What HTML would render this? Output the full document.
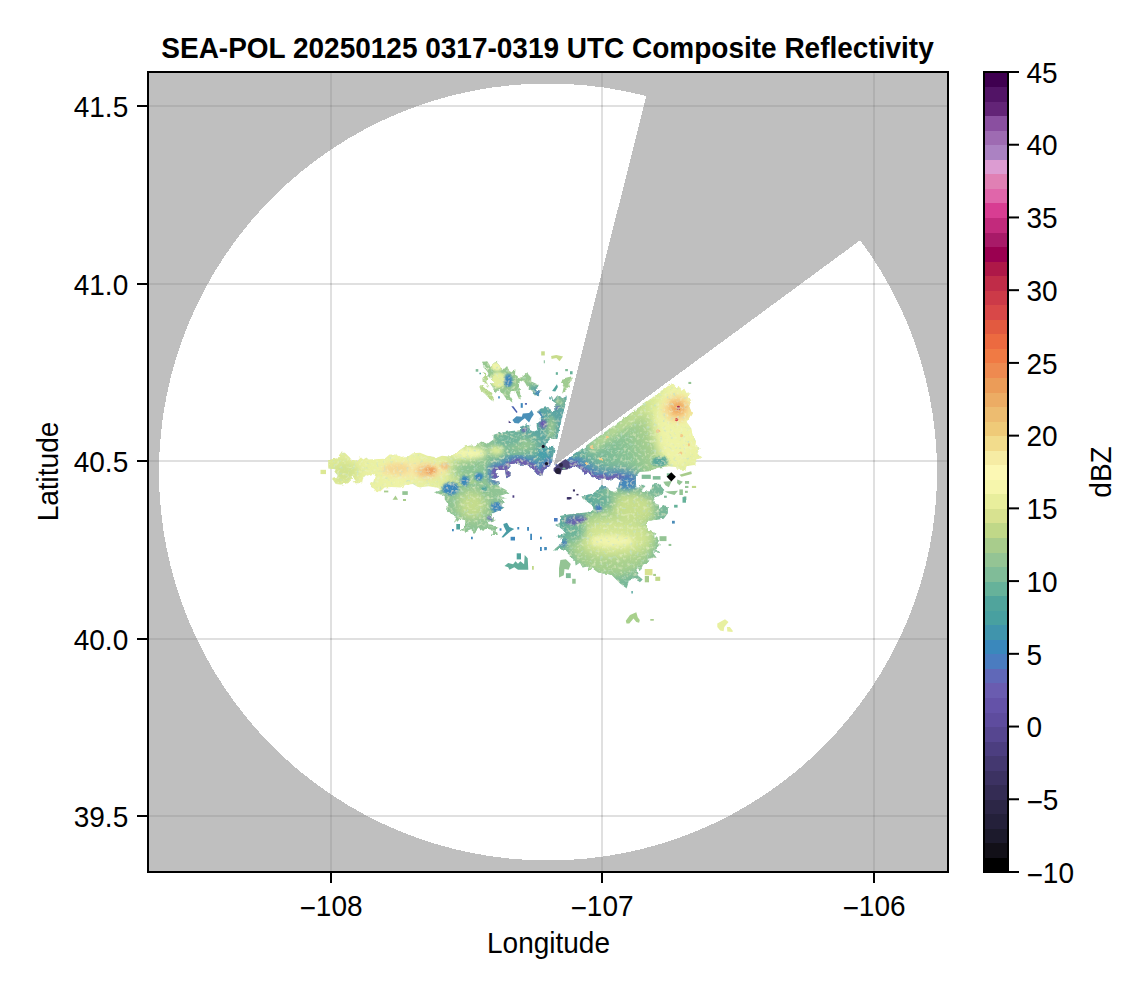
<!DOCTYPE html>
<html lang="en"><head><meta charset="utf-8"><title>SEA-POL Composite Reflectivity</title>
<style>
html,body{margin:0;padding:0;background:#fff;}
body{width:1146px;height:990px;overflow:hidden;}
svg{display:block;}
text{font-family:"Liberation Sans",sans-serif;fill:#000;}
.t{font-size:28px;}
.b{font-size:28px;font-weight:bold;}
</style></head><body>
<svg width="1146" height="990" viewBox="0 0 1146 990">
<rect width="1146" height="990" fill="#fff"/>
<defs>
<mask id="m" maskUnits="userSpaceOnUse" x="148" y="72" width="800" height="800">
<rect x="148" y="72" width="800" height="800" fill="#fff"/>
<ellipse cx="548" cy="472" rx="389" ry="388.5" fill="#000" shape-rendering="crispEdges"/>
<polygon points="553.4,466 646,97 700,-100 1100,-100 1100,62.8 858.2,241.7" fill="#fff" shape-rendering="crispEdges"/>
</mask>
<clipPath id="ax"><rect x="148" y="72" width="800" height="800"/></clipPath>
</defs>

<g stroke="#000" stroke-opacity="0.12" stroke-width="2">
<line x1="331" y1="72" x2="331" y2="872"/>
<line x1="602" y1="72" x2="602" y2="872"/>
<line x1="874" y1="72" x2="874" y2="872"/>
<line x1="148" y1="106" x2="948" y2="106"/>
<line x1="148" y1="284" x2="948" y2="284"/>
<line x1="148" y1="461" x2="948" y2="461"/>
<line x1="148" y1="639" x2="948" y2="639"/>
<line x1="148" y1="816" x2="948" y2="816"/>
</g>
<g id="echo" clip-path="url(#ax)"><defs>
<clipPath id="ec"><path d="M328.2,460.0 L337.0,458.2 L340.7,452.7 L344.9,452.7 L349.8,457.6 L351.6,460.0 L358.4,460.0 L360.8,457.2 L363.3,459.4 L366.3,457.6 L368.7,459.4 L384.6,458.8 L389.5,454.5 L395.6,454.5 L400.5,457.0 L409.0,455.8 L412.7,453.3 L420.0,452.7 L427.4,455.8 L437.2,457.6 L442.0,455.8 L449.4,456.4 L452.0,455.4 L465.4,446.3 L476.4,445.0 L481.3,441.4 L487.4,443.8 L493.5,439.5 L493.5,434.7 L500.0,432.7 L511.8,430.9 L520.0,430.0 L520.0,426.8 L524.5,425.5 L526.4,423.2 L529.1,424.5 L530.0,430.0 L533.6,431.8 L537.3,430.0 L536.4,424.5 L540.9,420.0 L540.9,417.3 L536.8,411.8 L540.9,408.6 L548.2,406.8 L550.9,410.9 L554.5,410.9 L554.1,405.5 L556.4,403.6 L553.6,401.8 L551.8,400.0 L549.1,399.1 L549.5,396.4 L553.6,400.0 L557.3,395.5 L562.7,398.2 L566.8,395.9 L566.5,399.1 L564.5,408.2 L561.8,419.1 L559.1,430.0 L557.3,439.1 L550.0,439.1 L545.5,444.5 L548.2,448.2 L553.6,445.5 L555.0,448.2 L553.6,453.6 L551.8,460.9 L550.0,465.5 L548.2,467.3 L543.6,470.0 L542.3,476.4 L537.3,474.5 L531.8,468.2 L524.5,464.5 L520.0,464.5 L516.4,462.7 L511.8,464.5 L508.2,469.1 L510.9,475.5 L506.4,478.2 L505.0,470.0 L496.4,470.0 L495.0,473.6 L499.1,476.4 L495.5,478.6 L489.9,478.6 L480.0,482.0 L460.0,486.0 L440.8,490.0 L436.0,487.5 L428.6,486.3 L418.8,487.5 L412.7,483.9 L405.4,485.1 L400.5,487.5 L391.4,486.9 L384.6,487.5 L379.1,492.4 L376.1,491.8 L374.9,489.4 L370.6,487.5 L370.0,483.9 L373.0,482.0 L374.9,475.3 L372.4,474.1 L363.3,477.1 L362.0,483.3 L352.9,483.3 L352.9,481.4 L356.5,480.8 L354.1,477.8 L350.4,475.9 L352.3,479.0 L348.0,483.3 L340.7,484.5 L335.8,483.9 L332.1,479.0 L337.0,477.8 L337.6,475.3 L334.5,471.6 L335.8,469.2 L328.2,468.6Z"/><path d="M436.0,484.0 L442.2,489.8 L433.7,492.2 L444.7,495.9 L444.7,499.5 L448.3,504.4 L447.1,509.3 L453.2,516.6 L456.3,517.9 L453.8,522.8 L459.9,519.1 L465.4,520.3 L464.8,526.4 L460.5,530.1 L466.6,531.9 L471.5,530.1 L474.0,533.1 L478.9,528.3 L483.7,531.3 L487.4,528.9 L493.5,530.1 L490.5,535.0 L497.8,535.0 L496.6,529.5 L498.4,526.4 L488.6,525.2 L487.4,522.1 L496.0,520.3 L491.1,516.0 L493.5,513.0 L500.2,509.9 L504.5,507.5 L500.9,506.3 L503.9,502.0 L500.2,499.5 L507.0,498.3 L499.6,495.9 L509.4,492.8 L505.7,489.8 L498.4,486.1 L499.6,481.8 L492.3,480.0 L489.9,478.6 L470.0,470.0 L445.0,470.0Z"/><path d="M562.0,463.2 L671.7,383.5 L675.9,387.5 L678.7,386.1 L681.5,390.9 L684.3,388.8 L686.4,393.0 L690.5,392.3 L688.4,396.5 L691.2,400.7 L689.1,406.3 L691.9,413.3 L688.4,418.9 L686.4,421.7 L691.2,428.6 L692.6,435.6 L696.1,441.2 L695.4,445.4 L699.6,448.2 L697.5,453.8 L701.7,458.0 L696.1,459.4 L695.4,464.9 L686.4,466.3 L685.7,469.8 L677.3,469.8 L675.9,467.0 L668.9,466.3 L657.7,467.7 L649.4,471.2 L639.6,471.9 L636.1,476.1 L630.0,480.0 L620.0,480.0 L615.8,477.5 L608.9,480.3 L601.9,478.2 L596.3,478.9 L587.9,473.3 L583.7,474.7 L582.3,470.5 L574.0,464.9 L569.8,469.8 L566.0,467.0 L560.0,467.7 L556.0,466.0Z"/><path d="M617.0,477.0 L636.0,476.0 L635.8,483.2 L636.5,488.0 L642.7,484.5 L645.5,485.9 L641.3,490.8 L649.7,491.5 L652.5,484.5 L658.8,483.8 L664.4,490.1 L660.9,495.0 L653.9,497.8 L655.3,503.4 L658.8,504.8 L659.5,508.3 L664.4,505.5 L667.9,506.2 L667.9,513.2 L663.7,518.8 L655.3,520.1 L648.3,520.8 L646.2,524.3 L648.3,530.6 L655.3,533.4 L653.9,536.2 L658.8,540.4 L659.5,545.3 L655.3,548.8 L659.5,553.0 L652.5,552.3 L656.7,557.8 L648.3,558.5 L647.6,562.7 L642.7,565.5 L639.9,571.1 L635.8,568.3 L637.8,575.3 L642.7,579.5 L639.9,582.3 L634.4,578.1 L628.8,580.9 L626.7,588.6 L620.4,583.7 L612.0,575.3 L607.8,573.9 L598.1,572.5 L592.5,568.3 L589.7,570.4 L588.3,566.2 L582.7,567.6 L579.9,562.7 L575.7,565.5 L575.0,561.3 L570.1,555.8 L565.9,551.6 L559.0,548.8 L552.7,550.9 L559.0,545.3 L563.2,539.0 L557.6,537.6 L558.3,534.8 L565.9,533.4 L561.8,528.5 L556.2,525.0 L560.4,522.2 L559.7,516.0 L568.7,514.6 L578.5,513.2 L588.3,512.5 L593.9,509.7 L592.5,505.5 L586.9,501.3 L582.0,497.1 L586.9,495.0 L593.9,492.9 L600.8,486.6 L606.4,485.9 L612.0,492.9 L616.2,492.2 L618.3,485.9 L620.4,480.4Z"/><path d="M482.0,361.8 L487.2,361.2 L490.4,365.9 L496.6,360.7 L500.3,367.0 L504.0,369.1 L507.1,365.9 L509.2,370.7 L511.3,372.2 L515.5,369.1 L515.0,374.8 L517.6,375.9 L518.1,378.5 L522.8,376.4 L527.5,372.2 L531.2,376.4 L531.2,381.6 L538.5,384.8 L538.0,387.9 L535.4,389.0 L537.0,391.6 L541.7,390.0 L538.5,395.3 L533.3,395.3 L532.3,391.1 L528.1,387.9 L524.9,382.7 L522.8,380.6 L519.2,382.7 L520.7,399.5 L518.6,398.4 L515.5,391.1 L511.3,391.1 L509.2,394.2 L512.4,399.5 L511.3,402.6 L506.1,398.4 L499.8,390.0 L494.6,393.2 L492.5,386.9 L490.4,383.7 L494.6,382.7 L488.3,375.4 L487.2,369.1 L483.0,364.9Z"/><path d="M482.5,372.2 L485.1,372.7 L488.8,378.5 L486.2,381.1 L488.3,386.9 L482.5,381.6 L482.5,379.0 L485.1,376.4Z"/><path d="M479.4,385.3 L481.5,385.3 L488.3,389.5 L493.5,396.3 L493.5,401.5 L491.4,400.5 L486.2,395.3 L480.4,390.0Z"/><path d="M563.1,378.5 L571.0,376.4 L572.0,380.6 L568.9,382.7 L570.0,386.9 L565.8,390.0 L562.1,393.7 L563.7,386.9 L561.0,382.7Z"/></clipPath>
<filter id="b0" x="-50%" y="-50%" width="200%" height="200%"><feGaussianBlur stdDeviation="1.2"/></filter>
<filter id="b1" x="-50%" y="-50%" width="200%" height="200%"><feGaussianBlur stdDeviation="2.5"/></filter>
<filter id="b2" x="-50%" y="-50%" width="200%" height="200%"><feGaussianBlur stdDeviation="4"/></filter>
<filter id="b3" x="-50%" y="-50%" width="200%" height="200%"><feGaussianBlur stdDeviation="6"/></filter>
<linearGradient id="gb" gradientUnits="userSpaceOnUse" x1="328" y1="0" x2="560" y2="0">
<stop offset="0" stop-color="#dce894"/><stop offset="0.1" stop-color="#e6ee9e"/><stop offset="0.3" stop-color="#eef3a6"/><stop offset="0.5" stop-color="#e2ec9c"/><stop offset="0.6" stop-color="#b4d68c"/><stop offset="0.72" stop-color="#7cba98"/><stop offset="0.85" stop-color="#5ca8a0"/><stop offset="1" stop-color="#5aa4a4"/></linearGradient>
<linearGradient id="gn" gradientUnits="userSpaceOnUse" x1="562" y1="470" x2="690" y2="420">
<stop offset="0" stop-color="#5f8ebc"/><stop offset="0.1" stop-color="#58a4a2"/><stop offset="0.25" stop-color="#74b69a"/><stop offset="0.5" stop-color="#8cc494"/><stop offset="0.66" stop-color="#a8cf8e"/><stop offset="0.78" stop-color="#dcea98"/><stop offset="1" stop-color="#eef3a6"/></linearGradient>
<filter id="tex" filterUnits="userSpaceOnUse" x="310" y="340" width="410" height="260">
<feTurbulence type="fractalNoise" baseFrequency="0.22" numOctaves="2" seed="7" result="n"/>
<feDisplacementMap in="SourceGraphic" in2="n" scale="3.2" xChannelSelector="R" yChannelSelector="G" result="d"/>
<feTurbulence type="fractalNoise" baseFrequency="0.3" numOctaves="2" seed="11" result="n2"/>
<feColorMatrix in="n2" type="matrix" values="0 0 0 0 0.82  0 0 0 0 0.89  0 0 0 0 0.60  2.0 0 0 0 -1.09" result="s1"/>
<feColorMatrix in="n2" type="matrix" values="0 0 0 0 0.50  0 0 0 0 0.74  0 0 0 0 0.60  0 -2.6 0 0 1.02" result="s2"/>
<feComposite in="s1" in2="d" operator="atop" result="c1"/>
<feComposite in="s2" in2="c1" operator="atop"/>
</filter>
</defs>
<g filter="url(#tex)">
<path d="M436.0,484.0 L442.2,489.8 L433.7,492.2 L444.7,495.9 L444.7,499.5 L448.3,504.4 L447.1,509.3 L453.2,516.6 L456.3,517.9 L453.8,522.8 L459.9,519.1 L465.4,520.3 L464.8,526.4 L460.5,530.1 L466.6,531.9 L471.5,530.1 L474.0,533.1 L478.9,528.3 L483.7,531.3 L487.4,528.9 L493.5,530.1 L490.5,535.0 L497.8,535.0 L496.6,529.5 L498.4,526.4 L488.6,525.2 L487.4,522.1 L496.0,520.3 L491.1,516.0 L493.5,513.0 L500.2,509.9 L504.5,507.5 L500.9,506.3 L503.9,502.0 L500.2,499.5 L507.0,498.3 L499.6,495.9 L509.4,492.8 L505.7,489.8 L498.4,486.1 L499.6,481.8 L492.3,480.0 L489.9,478.6 L470.0,470.0 L445.0,470.0Z" fill="#90c494"/>
<path d="M328.2,460.0 L337.0,458.2 L340.7,452.7 L344.9,452.7 L349.8,457.6 L351.6,460.0 L358.4,460.0 L360.8,457.2 L363.3,459.4 L366.3,457.6 L368.7,459.4 L384.6,458.8 L389.5,454.5 L395.6,454.5 L400.5,457.0 L409.0,455.8 L412.7,453.3 L420.0,452.7 L427.4,455.8 L437.2,457.6 L442.0,455.8 L449.4,456.4 L452.0,455.4 L465.4,446.3 L476.4,445.0 L481.3,441.4 L487.4,443.8 L493.5,439.5 L493.5,434.7 L500.0,432.7 L511.8,430.9 L520.0,430.0 L520.0,426.8 L524.5,425.5 L526.4,423.2 L529.1,424.5 L530.0,430.0 L533.6,431.8 L537.3,430.0 L536.4,424.5 L540.9,420.0 L540.9,417.3 L536.8,411.8 L540.9,408.6 L548.2,406.8 L550.9,410.9 L554.5,410.9 L554.1,405.5 L556.4,403.6 L553.6,401.8 L551.8,400.0 L549.1,399.1 L549.5,396.4 L553.6,400.0 L557.3,395.5 L562.7,398.2 L566.8,395.9 L566.5,399.1 L564.5,408.2 L561.8,419.1 L559.1,430.0 L557.3,439.1 L550.0,439.1 L545.5,444.5 L548.2,448.2 L553.6,445.5 L555.0,448.2 L553.6,453.6 L551.8,460.9 L550.0,465.5 L548.2,467.3 L543.6,470.0 L542.3,476.4 L537.3,474.5 L531.8,468.2 L524.5,464.5 L520.0,464.5 L516.4,462.7 L511.8,464.5 L508.2,469.1 L510.9,475.5 L506.4,478.2 L505.0,470.0 L496.4,470.0 L495.0,473.6 L499.1,476.4 L495.5,478.6 L489.9,478.6 L480.0,482.0 L460.0,486.0 L440.8,490.0 L436.0,487.5 L428.6,486.3 L418.8,487.5 L412.7,483.9 L405.4,485.1 L400.5,487.5 L391.4,486.9 L384.6,487.5 L379.1,492.4 L376.1,491.8 L374.9,489.4 L370.6,487.5 L370.0,483.9 L373.0,482.0 L374.9,475.3 L372.4,474.1 L363.3,477.1 L362.0,483.3 L352.9,483.3 L352.9,481.4 L356.5,480.8 L354.1,477.8 L350.4,475.9 L352.3,479.0 L348.0,483.3 L340.7,484.5 L335.8,483.9 L332.1,479.0 L337.0,477.8 L337.6,475.3 L334.5,471.6 L335.8,469.2 L328.2,468.6Z" fill="url(#gb)"/>
<path d="M562.0,463.2 L671.7,383.5 L675.9,387.5 L678.7,386.1 L681.5,390.9 L684.3,388.8 L686.4,393.0 L690.5,392.3 L688.4,396.5 L691.2,400.7 L689.1,406.3 L691.9,413.3 L688.4,418.9 L686.4,421.7 L691.2,428.6 L692.6,435.6 L696.1,441.2 L695.4,445.4 L699.6,448.2 L697.5,453.8 L701.7,458.0 L696.1,459.4 L695.4,464.9 L686.4,466.3 L685.7,469.8 L677.3,469.8 L675.9,467.0 L668.9,466.3 L657.7,467.7 L649.4,471.2 L639.6,471.9 L636.1,476.1 L630.0,480.0 L620.0,480.0 L615.8,477.5 L608.9,480.3 L601.9,478.2 L596.3,478.9 L587.9,473.3 L583.7,474.7 L582.3,470.5 L574.0,464.9 L569.8,469.8 L566.0,467.0 L560.0,467.7 L556.0,466.0Z" fill="url(#gn)"/>
<path d="M617.0,477.0 L636.0,476.0 L635.8,483.2 L636.5,488.0 L642.7,484.5 L645.5,485.9 L641.3,490.8 L649.7,491.5 L652.5,484.5 L658.8,483.8 L664.4,490.1 L660.9,495.0 L653.9,497.8 L655.3,503.4 L658.8,504.8 L659.5,508.3 L664.4,505.5 L667.9,506.2 L667.9,513.2 L663.7,518.8 L655.3,520.1 L648.3,520.8 L646.2,524.3 L648.3,530.6 L655.3,533.4 L653.9,536.2 L658.8,540.4 L659.5,545.3 L655.3,548.8 L659.5,553.0 L652.5,552.3 L656.7,557.8 L648.3,558.5 L647.6,562.7 L642.7,565.5 L639.9,571.1 L635.8,568.3 L637.8,575.3 L642.7,579.5 L639.9,582.3 L634.4,578.1 L628.8,580.9 L626.7,588.6 L620.4,583.7 L612.0,575.3 L607.8,573.9 L598.1,572.5 L592.5,568.3 L589.7,570.4 L588.3,566.2 L582.7,567.6 L579.9,562.7 L575.7,565.5 L575.0,561.3 L570.1,555.8 L565.9,551.6 L559.0,548.8 L552.7,550.9 L559.0,545.3 L563.2,539.0 L557.6,537.6 L558.3,534.8 L565.9,533.4 L561.8,528.5 L556.2,525.0 L560.4,522.2 L559.7,516.0 L568.7,514.6 L578.5,513.2 L588.3,512.5 L593.9,509.7 L592.5,505.5 L586.9,501.3 L582.0,497.1 L586.9,495.0 L593.9,492.9 L600.8,486.6 L606.4,485.9 L612.0,492.9 L616.2,492.2 L618.3,485.9 L620.4,480.4Z" fill="#78b89a"/>
<path d="M482.0,361.8 L487.2,361.2 L490.4,365.9 L496.6,360.7 L500.3,367.0 L504.0,369.1 L507.1,365.9 L509.2,370.7 L511.3,372.2 L515.5,369.1 L515.0,374.8 L517.6,375.9 L518.1,378.5 L522.8,376.4 L527.5,372.2 L531.2,376.4 L531.2,381.6 L538.5,384.8 L538.0,387.9 L535.4,389.0 L537.0,391.6 L541.7,390.0 L538.5,395.3 L533.3,395.3 L532.3,391.1 L528.1,387.9 L524.9,382.7 L522.8,380.6 L519.2,382.7 L520.7,399.5 L518.6,398.4 L515.5,391.1 L511.3,391.1 L509.2,394.2 L512.4,399.5 L511.3,402.6 L506.1,398.4 L499.8,390.0 L494.6,393.2 L492.5,386.9 L490.4,383.7 L494.6,382.7 L488.3,375.4 L487.2,369.1 L483.0,364.9Z" fill="#98c890"/>
<path d="M482.5,372.2 L485.1,372.7 L488.8,378.5 L486.2,381.1 L488.3,386.9 L482.5,381.6 L482.5,379.0 L485.1,376.4Z" fill="#b4d68c"/>
<path d="M479.4,385.3 L481.5,385.3 L488.3,389.5 L493.5,396.3 L493.5,401.5 L491.4,400.5 L486.2,395.3 L480.4,390.0Z" fill="#b8d88c"/>
<path d="M563.1,378.5 L571.0,376.4 L572.0,380.6 L568.9,382.7 L570.0,386.9 L565.8,390.0 L562.1,393.7 L563.7,386.9 L561.0,382.7Z" fill="#a0cc90"/>
<g clip-path="url(#ec)">
<ellipse cx="345" cy="472" rx="13" ry="11" fill="#d2e28e" filter="url(#b2)"/>
<ellipse cx="414" cy="470" rx="34" ry="8" fill="#f6e8a4" filter="url(#b1)"/>
<ellipse cx="397" cy="469" rx="13" ry="5.5" fill="#f5d892" filter="url(#b1)"/>
<ellipse cx="427" cy="471" rx="11" ry="6.5" fill="#f3c482" filter="url(#b1)"/>
<ellipse cx="429.5" cy="470.5" rx="5" ry="3" fill="#eea460" filter="url(#b0)"/>
<ellipse cx="445" cy="466" rx="4.5" ry="3.5" fill="#f3c482" filter="url(#b0)"/>
<ellipse cx="433" cy="470" rx="3" ry="2" fill="#eea460" filter="url(#b0)"/>
<ellipse cx="475" cy="470" rx="22" ry="9" fill="#8cc494" filter="url(#b2)"/>
<ellipse cx="469" cy="453" rx="18" ry="6" fill="#f2f6ac" filter="url(#b1)"/>
<ellipse cx="496.5" cy="450.5" rx="8" ry="5" fill="#dcea98" filter="url(#b1)"/>
<ellipse cx="522" cy="445" rx="16" ry="8" fill="#98c892" filter="url(#b2)"/>
<ellipse cx="510" cy="440" rx="12" ry="5" fill="#6fb49c" filter="url(#b1)"/>
<path d="M550.0,465.5 L546.0,469.0 L542.3,476.4 L537.3,474.5 L531.8,468.2 L524.5,464.5 L516.4,462.7 L510.0,466.0 L508.0,474.0 L504.0,470.0 L496.0,471.0 L497.0,477.0" fill="none" stroke="#4a84bc" stroke-width="17" stroke-linecap="round" stroke-linejoin="round" stroke-opacity="0.9" filter="url(#b1)"/>
<path d="M550.0,465.5 L546.0,469.0 L542.3,476.4 L537.3,474.5 L531.8,468.2 L524.5,464.5 L516.4,462.7 L510.0,466.0 L508.0,474.0 L504.0,470.0 L496.0,471.0 L497.0,477.0" fill="none" stroke="#6e60ae" stroke-width="9" stroke-linecap="round" stroke-linejoin="round" filter="url(#b0)"/>
<ellipse cx="544" cy="453.5" rx="6" ry="5.5" fill="#48a0aa" filter="url(#b0)"/>
<ellipse cx="450.5" cy="488.5" rx="8.5" ry="6.5" fill="#3a88bc" filter="url(#b0)"/>
<ellipse cx="464.7" cy="480.8" rx="4.5" ry="5" fill="#3a88bc" filter="url(#b0)"/>
<ellipse cx="479" cy="476.7" rx="4.5" ry="4" fill="#3a88bc" filter="url(#b0)"/>
<ellipse cx="484.4" cy="489" rx="2.5" ry="3" fill="#48a0a0" filter="url(#b0)"/>
<ellipse cx="551" cy="428" rx="5" ry="12" fill="#94c492" filter="url(#b1)"/>
<ellipse cx="560" cy="402" rx="5" ry="5" fill="#94c492" filter="url(#b1)"/>
<ellipse cx="543" cy="424" rx="3.5" ry="4" fill="#6a5cb0" filter="url(#b0)"/>
<ellipse cx="524" cy="430" rx="2.5" ry="2" fill="#6a5cb0" filter="url(#b0)"/>
<ellipse cx="556.3" cy="407.5" rx="2" ry="2" fill="#6068b8" filter="url(#b0)"/>
<ellipse cx="538" cy="415" rx="4" ry="5" fill="#4a88b8" filter="url(#b0)"/>
<ellipse cx="472" cy="505" rx="14" ry="14" fill="#c4dc8c" filter="url(#b2)"/>
<ellipse cx="497" cy="507.5" rx="6" ry="6" fill="#3f88bc" filter="url(#b0)" transform="rotate(-35 497 507.5)"/>
<ellipse cx="489.8" cy="518" rx="2.5" ry="2" fill="#6068b8" filter="url(#b0)"/>
<path d="M592.0,447.0 L672.0,388.0" fill="none" stroke="#d4e692" stroke-width="8" stroke-linecap="round" stroke-linejoin="round" stroke-opacity="0.85" filter="url(#b2)"/>
<path d="M558.0,467.0 L570.0,467.0 L574.0,465.0 L583.0,472.0 L588.0,473.5 L596.0,479.0 L602.0,478.5 L609.0,480.5 L616.0,478.0 L630.0,480.0" fill="none" stroke="#4a80c0" stroke-width="17" stroke-linecap="round" stroke-linejoin="round" stroke-opacity="0.92" filter="url(#b2)"/>
<path d="M558.0,467.0 L570.0,467.0 L574.0,465.0 L583.0,472.0 L588.0,473.5 L596.0,479.0 L602.0,478.5 L609.0,480.5 L616.0,478.0 L630.0,480.0" fill="none" stroke="#6e60ae" stroke-width="7.5" stroke-linecap="round" stroke-linejoin="round" filter="url(#b0)"/>
<ellipse cx="676" cy="425" rx="20" ry="44" fill="#eef3a6" filter="url(#b2)"/>
<ellipse cx="677.5" cy="408.5" rx="15" ry="14" fill="#f6dc94" filter="url(#b1)"/>
<ellipse cx="677.5" cy="408" rx="8" ry="7.5" fill="#f0ac64" filter="url(#b1)"/>
<ellipse cx="678.3" cy="408.4" rx="1.6" ry="1.6" fill="#b0204c"/>
<ellipse cx="676.6" cy="419.6" rx="1.6" ry="1.6" fill="#d84848"/>
<ellipse cx="681.5" cy="435.6" rx="1.6" ry="1.6" fill="#f4c884"/>
<ellipse cx="680.8" cy="453.1" rx="1.6" ry="1.6" fill="#f4c884"/>
<ellipse cx="688.4" cy="444.7" rx="1.6" ry="1.6" fill="#f4c884"/>
<ellipse cx="657.7" cy="431.4" rx="1.6" ry="1.6" fill="#f4c884"/>
<ellipse cx="607.2" cy="437.4" rx="1.6" ry="1.6" fill="#f4c884"/>
<ellipse cx="591.4" cy="446.8" rx="1.6" ry="1.6" fill="#f4c884"/>
<ellipse cx="600.5" cy="458.7" rx="1.6" ry="1.6" fill="#f4c884"/>
<ellipse cx="586.5" cy="463.5" rx="1.6" ry="1.6" fill="#f4c884"/>
<ellipse cx="660" cy="461.5" rx="8" ry="5" fill="#58a89c" filter="url(#b0)"/>
<ellipse cx="612" cy="535" rx="46" ry="42" fill="#a8d08e" filter="url(#b2)"/>
<ellipse cx="634" cy="508" rx="21" ry="15" fill="#c8de8c" filter="url(#b2)"/>
<ellipse cx="614" cy="538" rx="37" ry="19" fill="#d2e492" filter="url(#b2)"/>
<ellipse cx="612" cy="541" rx="22" ry="6.5" fill="#f0f4aa" filter="url(#b1)"/>
<ellipse cx="627" cy="482.5" rx="9" ry="7" fill="#4488bc" filter="url(#b1)"/>
<ellipse cx="573" cy="531" rx="12" ry="11" fill="#62ae9c" fill-opacity="0.85" filter="url(#b2)"/>
<ellipse cx="600" cy="501" rx="13" ry="8" fill="#5aa8a0" fill-opacity="0.85" filter="url(#b2)"/>
<ellipse cx="575" cy="519.5" rx="11" ry="4.5" fill="#6a5cb0" filter="url(#b0)" transform="rotate(-8 575 519.5)"/>
<ellipse cx="563" cy="543" rx="4.2" ry="3" fill="#4a7cc0" filter="url(#b0)"/>
<ellipse cx="598.5" cy="508" rx="3.5" ry="3.2" fill="#4a7cc0" filter="url(#b0)"/>
<path d="M560.0,545.0 L562.0,530.0 L560.0,520.0 L590.0,511.0 L592.0,504.0 L584.0,497.0 L600.0,488.0" fill="none" stroke="#4fa3a0" stroke-width="6" stroke-linecap="round" stroke-linejoin="round" stroke-opacity="0.8" filter="url(#b1)"/>
<ellipse cx="497" cy="366.5" rx="6" ry="4.5" fill="#f0f4a8" filter="url(#b0)"/>
<ellipse cx="498.5" cy="380" rx="8" ry="8" fill="#e4ee9e" filter="url(#b0)"/>
<ellipse cx="508.3" cy="380.7" rx="4.2" ry="6.6" fill="#3f88bc" filter="url(#b0)"/>
<ellipse cx="535" cy="389" rx="5" ry="5" fill="#5aa4a4" filter="url(#b1)"/>
<ellipse cx="538" cy="392.5" rx="4" ry="3" fill="#3f88bc" filter="url(#b0)"/>
</g>
</g>
<path d="M512.4,419.9 L516.5,416.2 L521.8,416.7 L522.8,413.6 L529.1,413.1 L531.7,409.9 L533.8,414.6 L531.2,418.3 L529.1,422.5 L524.9,418.3 L521.8,420.4 L518.6,423.5 L514.5,423.0Z" fill="#4a90b8"/>
<path d="M553.6,468.2 L559.1,463.6 L565.5,459.1 L569.1,461.8 L570.0,467.3 L567.3,469.5 L561.8,470.0 L560.5,474.5 L557.3,474.1 L553.6,470.9Z" fill="#4c4478"/>
<ellipse cx="558" cy="471" rx="3" ry="3" fill="#241f38"/>
<ellipse cx="561" cy="465" rx="2" ry="2" fill="#2c2646"/>
<ellipse cx="564" cy="468.5" rx="1.6" ry="1" fill="#80bc98"/>
<path d="M320.5,469.8 L326.0,469.8 L326.0,474.1 L320.5,474.1Z" fill="#dce894"/>
<path d="M384.0,490.6 L388.3,490.6 L388.3,492.4 L384.0,492.4Z" fill="#a8cc8c"/>
<path d="M402.3,491.2 L407.8,491.2 L407.8,494.9 L402.3,494.9Z" fill="#94c494"/>
<path d="M392.6,499.7 L395.5,495.5 L398.0,499.7Z" fill="#a8cc8c"/>
<path d="M403.0,499.0 L406.0,499.0 L406.0,501.0 L403.0,501.0Z" fill="#a8cc8c"/>
<path d="M503.3,524.0 L507.0,522.8 L509.4,527.0 L514.3,528.9 L510.6,531.3 L503.3,537.4 L501.5,537.2 L506.3,531.3 L503.9,526.4Z" fill="#4a9ca4"/>
<path d="M510.6,536.8 L515.0,536.8 L515.0,540.5 L510.6,540.5Z" fill="#3f88bc"/>
<path d="M456.3,524.0 L460.0,524.0 L460.0,529.5 L456.3,529.5Z" fill="#50a49c"/>
<path d="M452.0,528.9 L453.8,528.9 L453.8,531.3 L452.0,531.3Z" fill="#3f88bc"/>
<path d="M471.0,536.8 L472.8,536.8 L472.8,539.2 L471.0,539.2Z" fill="#3f88bc"/>
<path d="M499.6,528.3 L501.5,528.3 L501.5,530.7 L499.6,530.7Z" fill="#3f88bc"/>
<path d="M517.3,527.0 L519.2,527.0 L519.2,529.5 L517.3,529.5Z" fill="#3f88bc"/>
<path d="M527.1,527.0 L529.0,527.0 L529.0,530.7 L527.1,530.7Z" fill="#3f88bc"/>
<path d="M530.2,533.8 L532.0,533.8 L532.0,539.9 L530.2,539.9Z" fill="#3f88bc"/>
<path d="M540.0,536.8 L541.8,536.8 L541.8,539.2 L540.0,539.2Z" fill="#3f88bc"/>
<path d="M540.0,547.0 L541.8,547.0 L541.8,550.9 L540.0,550.9Z" fill="#3f88bc"/>
<path d="M544.2,547.0 L546.7,547.0 L546.7,550.2 L544.2,550.2Z" fill="#3f88bc"/>
<path d="M512.5,495.3 L514.3,495.3 L514.3,497.7 L512.5,497.7Z" fill="#4c3e80"/>
<path d="M566.8,497.1 L570.0,497.1 L570.0,499.5 L566.8,499.5Z" fill="#4c3e80"/>
<path d="M504.5,566.1 L508.2,563.1 L513.1,564.3 L515.5,561.2 L518.0,563.7 L520.4,561.2 L524.1,564.3 L524.7,555.1 L527.7,558.2 L528.3,569.8 L518.0,569.8 L514.3,567.3 L509.4,569.8 L508.2,567.3Z" fill="#62ae9a"/>
<path d="M516.7,553.3 L521.0,553.3 L521.0,559.4 L516.7,559.4Z" fill="#50a49c"/>
<path d="M532.0,566.0 L533.8,566.0 L533.8,569.8 L532.0,569.8Z" fill="#c0d888"/>
<path d="M475.7,369.1 L478.3,369.1 L478.3,371.7 L475.7,371.7Z" fill="#80bc98"/>
<path d="M479.4,372.7 L481.0,372.7 L481.0,374.3 L479.4,374.3Z" fill="#50a49c"/>
<path d="M498.2,396.3 L499.8,396.3 L499.8,398.4 L498.2,398.4Z" fill="#3f88bc"/>
<path d="M541.2,351.3 L544.8,351.3 L544.8,355.5 L541.2,355.5Z" fill="#c8dc8c"/>
<path d="M543.8,360.2 L544.8,360.2 L544.8,363.3 L543.8,363.3Z" fill="#80bc98"/>
<path d="M551.1,356.0 L556.3,355.0 L563.1,356.5 L559.5,361.2 L556.3,358.1 L551.6,359.1Z" fill="#c8dc8c"/>
<path d="M555.8,372.2 L557.9,372.2 L557.9,374.8 L555.8,374.8Z" fill="#66b29a"/>
<path d="M565.2,369.0 L567.9,369.0 L567.9,371.2 L565.2,371.2Z" fill="#80bc98"/>
<path d="M570.0,371.2 L572.6,371.2 L572.6,374.3 L570.0,374.3Z" fill="#66b29a"/>
<path d="M556.9,384.3 L557.9,386.9 L555.3,391.6 L552.1,391.1Z" fill="#50a49c"/>
<path d="M511.3,406.3 L513.4,406.3 L517.6,412.0 L516.5,412.9Z" fill="#4a60b0"/>
<path d="M520.7,403.1 L522.8,403.1 L522.8,407.8 L520.7,407.8Z" fill="#3f88bc"/>
<path d="M524.9,403.1 L527.0,403.1 L527.0,404.7 L524.9,404.7Z" fill="#4a60b0"/>
<path d="M508.7,420.4 L511.3,423.0 L508.7,423.0Z" fill="#4c3e80"/>
<path d="M666.8,473.3 L670.3,473.3 L670.3,476.8 L666.8,476.8Z" fill="#80bc98"/>
<path d="M641.7,474.7 L650.8,474.7 L650.8,478.9 L641.7,478.9Z" fill="#80bc98"/>
<path d="M652.8,476.1 L660.5,476.1 L660.5,479.6 L652.8,479.6Z" fill="#80bc98"/>
<path d="M679.4,474.7 L691.2,471.2 L691.9,474.0 L681.5,476.8Z" fill="#a8cc8c"/>
<path d="M663.3,481.7 L671.7,481.0 L668.9,487.3 L665.4,485.2Z" fill="#94c494"/>
<path d="M677.3,479.6 L682.9,481.7 L679.4,485.2 L677.0,483.1Z" fill="#94c494"/>
<path d="M685.0,481.0 L689.1,481.0 L689.1,483.8 L685.0,483.8Z" fill="#94c494"/>
<path d="M691.9,485.9 L696.1,485.9 L696.1,488.0 L691.9,488.0Z" fill="#c0d888"/>
<path d="M685.0,485.9 L688.4,485.9 L688.4,488.0 L685.0,488.0Z" fill="#94c494"/>
<path d="M664.7,491.5 L678.0,490.8 L674.5,495.0 L668.9,493.6Z" fill="#94c494"/>
<path d="M679.4,489.4 L682.9,489.4 L682.9,495.0 L679.4,495.0Z" fill="#94c494"/>
<path d="M685.0,490.8 L687.8,490.8 L687.8,492.9 L685.0,492.9Z" fill="#94c494"/>
<path d="M683.6,496.4 L686.4,496.4 L686.4,500.0 L683.6,500.0Z" fill="#80bc98"/>
<path d="M664.0,495.7 L666.8,495.7 L666.8,497.8 L664.0,497.8Z" fill="#80bc98"/>
<path d="M688.4,381.9 L691.2,381.9 L691.2,384.0 L688.4,384.0Z" fill="#94c494"/>
<path d="M560.4,559.9 L565.9,559.2 L570.8,564.1 L568.7,569.7 L564.5,569.0 L563.8,575.3 L559.0,577.4 L559.0,568.3Z" fill="#94c494"/>
<path d="M565.9,573.2 L570.8,573.2 L570.8,578.1 L565.9,578.1Z" fill="#80bc98"/>
<path d="M572.2,578.8 L575.7,578.8 L575.7,583.7 L572.2,583.7Z" fill="#94c494"/>
<path d="M644.8,569.0 L652.5,569.0 L652.5,575.3 L644.8,575.3Z" fill="#d8e290"/>
<path d="M644.8,576.0 L649.0,576.0 L649.0,582.3 L644.8,582.3Z" fill="#a8cc8c"/>
<path d="M655.3,576.7 L660.2,576.7 L660.2,580.9 L655.3,580.9Z" fill="#c0d888"/>
<path d="M653.2,573.9 L656.0,573.9 L656.0,576.0 L653.2,576.0Z" fill="#a8cc8c"/>
<path d="M659.5,536.2 L666.5,536.2 L666.5,541.1 L659.5,541.1Z" fill="#94c494"/>
<path d="M668.6,543.9 L671.3,543.9 L671.3,546.0 L668.6,546.0Z" fill="#94c494"/>
<path d="M672.0,520.8 L674.8,520.8 L674.8,523.6 L672.0,523.6Z" fill="#4a8cb8"/>
<path d="M674.1,504.8 L677.6,504.8 L677.6,507.6 L674.1,507.6Z" fill="#66b29a"/>
<path d="M682.5,497.1 L686.0,497.1 L686.0,502.7 L682.5,502.7Z" fill="#66b29a"/>
<path d="M567.3,497.1 L571.5,497.1 L571.5,499.2 L567.3,499.2Z" fill="#3c3262"/>
<path d="M572.9,489.4 L575.0,489.4 L575.0,491.5 L572.9,491.5Z" fill="#3c3262"/>
<path d="M576.4,493.9 L578.5,493.9 L578.5,495.4 L576.4,495.4Z" fill="#3c3262"/>
<path d="M545.0,547.4 L546.7,547.4 L546.7,549.5 L545.0,549.5Z" fill="#4a8cb8"/>
<path d="M554.0,518.0 L557.6,518.0 L557.6,521.5 L554.0,521.5Z" fill="#4a7cc0"/>
<path d="M625.8,620.7 L630.0,615.1 L636.3,612.3 L637.7,617.2 L639.8,620.0 L639.1,622.8 L636.3,622.1 L633.5,618.6 L629.3,623.5 L626.5,623.5Z" fill="#a8d08c"/>
<path d="M650.3,619.0 L653.8,619.0 L653.8,620.7 L650.3,620.7Z" fill="#a8cc8c"/>
<path d="M717.3,623.5 L725.0,619.3 L728.5,622.1 L724.3,627.0 L723.6,631.2 L720.1,630.5 L717.3,627.0Z" fill="#e8f0a0"/>
<path d="M727.0,627.0 L729.8,627.0 L732.6,630.5 L732.6,631.9 L727.3,631.6Z" fill="#e8f0a0"/>
<path d="M631.4,591.0 L632.8,591.0 L632.8,593.5 L631.4,593.5Z" fill="#50a49c"/>
<ellipse cx="543.2" cy="446.4" rx="1.6" ry="1.6" fill="#1a1428"/>
<ellipse cx="546.5" cy="463.6" rx="1.7" ry="1.7" fill="#1a1428"/>
<path d="M671.3,472.2 L675.9,476.8 L671.3,481.4 L666.7,476.8Z" fill="#000"/></g>
<rect x="148" y="72" width="800" height="800" fill="#808080" fill-opacity="0.5" mask="url(#m)"/>
<rect x="148" y="72" width="800" height="800" fill="none" stroke="#000" stroke-width="2"/>
<g stroke="#000" stroke-width="2">
<line x1="331" y1="873" x2="331" y2="883"/>
<line x1="602" y1="873" x2="602" y2="883"/>
<line x1="874" y1="873" x2="874" y2="883"/>
<line x1="137" y1="106" x2="147" y2="106"/>
<line x1="137" y1="284" x2="147" y2="284"/>
<line x1="137" y1="461" x2="147" y2="461"/>
<line x1="137" y1="639" x2="147" y2="639"/>
<line x1="137" y1="816" x2="147" y2="816"/>
</g>
<text class="t" transform="translate(128.2,116.5) scale(1,1.05)" text-anchor="end">41.5</text>
<text class="t" transform="translate(128.2,294.5) scale(1,1.05)" text-anchor="end">41.0</text>
<text class="t" transform="translate(128.2,471.5) scale(1,1.05)" text-anchor="end">40.5</text>
<text class="t" transform="translate(128.2,649.5) scale(1,1.05)" text-anchor="end">40.0</text>
<text class="t" transform="translate(128.2,826.5) scale(1,1.05)" text-anchor="end">39.5</text>
<text class="t" transform="translate(331,915.5) scale(1,1.05)" text-anchor="middle" dy="2.4 -2.4">−108</text>
<text class="t" transform="translate(602,915.5) scale(1,1.05)" text-anchor="middle" dy="2.4 -2.4">−107</text>
<text class="t" transform="translate(874,915.5) scale(1,1.05)" text-anchor="middle" dy="2.4 -2.4">−106</text>
<text class="t" transform="translate(548.5,953) scale(1,1.05)" text-anchor="middle">Longitude</text>
<text class="t" transform="translate(58,471.5) rotate(-90) scale(1,1.05)" text-anchor="middle">Latitude</text>
<text class="b" transform="translate(547.5,58.2) scale(1,1.05)" text-anchor="middle">SEA-POL 20250125 0317-0319 UTC Composite Reflectivity</text>
<g shape-rendering="crispEdges">
<rect x="984" y="857.45" width="24" height="15.05" fill="#000000"/>
<rect x="984" y="842.91" width="24" height="15.05" fill="#121018"/>
<rect x="984" y="828.36" width="24" height="15.05" fill="#1c1a2c"/>
<rect x="984" y="813.82" width="24" height="15.05" fill="#24203a"/>
<rect x="984" y="799.27" width="24" height="15.05" fill="#2c2646"/>
<rect x="984" y="784.73" width="24" height="15.05" fill="#342c54"/>
<rect x="984" y="770.18" width="24" height="15.05" fill="#3c3262"/>
<rect x="984" y="755.64" width="24" height="15.05" fill="#443870"/>
<rect x="984" y="741.09" width="24" height="15.05" fill="#4c3e80"/>
<rect x="984" y="726.55" width="24" height="15.05" fill="#564690"/>
<rect x="984" y="712.00" width="24" height="15.05" fill="#5e4c9e"/>
<rect x="984" y="697.45" width="24" height="15.05" fill="#6452a8"/>
<rect x="984" y="682.91" width="24" height="15.05" fill="#6a5cb0"/>
<rect x="984" y="668.36" width="24" height="15.05" fill="#6068b8"/>
<rect x="984" y="653.82" width="24" height="15.05" fill="#4a7cc0"/>
<rect x="984" y="639.27" width="24" height="15.05" fill="#3a88bc"/>
<rect x="984" y="624.73" width="24" height="15.05" fill="#4094ac"/>
<rect x="984" y="610.18" width="24" height="15.05" fill="#48a0a0"/>
<rect x="984" y="595.64" width="24" height="15.05" fill="#50a49c"/>
<rect x="984" y="581.09" width="24" height="15.05" fill="#66b29a"/>
<rect x="984" y="566.55" width="24" height="15.05" fill="#80bc98"/>
<rect x="984" y="552.00" width="24" height="15.05" fill="#94c494"/>
<rect x="984" y="537.45" width="24" height="15.05" fill="#a8cc8c"/>
<rect x="984" y="522.91" width="24" height="15.05" fill="#c0d888"/>
<rect x="984" y="508.36" width="24" height="15.05" fill="#d8e290"/>
<rect x="984" y="493.82" width="24" height="15.05" fill="#e8ee9c"/>
<rect x="984" y="479.27" width="24" height="15.05" fill="#f6f6ac"/>
<rect x="984" y="464.73" width="24" height="15.05" fill="#fcf8b4"/>
<rect x="984" y="450.18" width="24" height="15.05" fill="#f6eca4"/>
<rect x="984" y="435.64" width="24" height="15.05" fill="#f2dc8c"/>
<rect x="984" y="421.09" width="24" height="15.05" fill="#efca78"/>
<rect x="984" y="406.55" width="24" height="15.05" fill="#edbc70"/>
<rect x="984" y="392.00" width="24" height="15.05" fill="#ecac64"/>
<rect x="984" y="377.45" width="24" height="15.05" fill="#eb9c58"/>
<rect x="984" y="362.91" width="24" height="15.05" fill="#ee8a50"/>
<rect x="984" y="348.36" width="24" height="15.05" fill="#f07a44"/>
<rect x="984" y="333.82" width="24" height="15.05" fill="#ec6a40"/>
<rect x="984" y="319.27" width="24" height="15.05" fill="#e25a40"/>
<rect x="984" y="304.73" width="24" height="15.05" fill="#d84848"/>
<rect x="984" y="290.18" width="24" height="15.05" fill="#cc3a48"/>
<rect x="984" y="275.64" width="24" height="15.05" fill="#c02c48"/>
<rect x="984" y="261.09" width="24" height="15.05" fill="#ae1848"/>
<rect x="984" y="246.55" width="24" height="15.05" fill="#9a0050"/>
<rect x="984" y="232.00" width="24" height="15.05" fill="#a81a68"/>
<rect x="984" y="217.45" width="24" height="15.05" fill="#c22a7c"/>
<rect x="984" y="202.91" width="24" height="15.05" fill="#d83d92"/>
<rect x="984" y="188.36" width="24" height="15.05" fill="#e066aa"/>
<rect x="984" y="173.82" width="24" height="15.05" fill="#e080b4"/>
<rect x="984" y="159.27" width="24" height="15.05" fill="#dc9cd2"/>
<rect x="984" y="144.73" width="24" height="15.05" fill="#ab82c2"/>
<rect x="984" y="130.18" width="24" height="15.05" fill="#9e6bb2"/>
<rect x="984" y="115.64" width="24" height="15.05" fill="#8a4fa0"/>
<rect x="984" y="101.09" width="24" height="15.05" fill="#632477"/>
<rect x="984" y="86.55" width="24" height="15.05" fill="#521466"/>
<rect x="984" y="72.00" width="24" height="15.05" fill="#3f0050"/>
</g>
<rect x="984" y="72" width="24" height="800" fill="none" stroke="#000" stroke-width="2"/>
<g stroke="#000" stroke-width="2">
<line x1="1009" y1="872.00" x2="1019" y2="872.00"/>
<line x1="1009" y1="799.27" x2="1019" y2="799.27"/>
<line x1="1009" y1="726.55" x2="1019" y2="726.55"/>
<line x1="1009" y1="653.82" x2="1019" y2="653.82"/>
<line x1="1009" y1="581.09" x2="1019" y2="581.09"/>
<line x1="1009" y1="508.36" x2="1019" y2="508.36"/>
<line x1="1009" y1="435.64" x2="1019" y2="435.64"/>
<line x1="1009" y1="362.91" x2="1019" y2="362.91"/>
<line x1="1009" y1="290.18" x2="1019" y2="290.18"/>
<line x1="1009" y1="217.45" x2="1019" y2="217.45"/>
<line x1="1009" y1="144.73" x2="1019" y2="144.73"/>
<line x1="1009" y1="72.00" x2="1019" y2="72.00"/>
</g>
<text class="t" transform="translate(1026.5,882.7) scale(1,1.05)" dy="2.4 -2.4">−10</text>
<text class="t" transform="translate(1026.5,809.97) scale(1,1.05)" dy="2.4 -2.4">−5</text>
<text class="t" transform="translate(1026.5,737.25) scale(1,1.05)">0</text>
<text class="t" transform="translate(1026.5,664.52) scale(1,1.05)">5</text>
<text class="t" transform="translate(1026.5,591.79) scale(1,1.05)">10</text>
<text class="t" transform="translate(1026.5,519.06) scale(1,1.05)">15</text>
<text class="t" transform="translate(1026.5,446.34) scale(1,1.05)">20</text>
<text class="t" transform="translate(1026.5,373.61) scale(1,1.05)">25</text>
<text class="t" transform="translate(1026.5,300.88) scale(1,1.05)">30</text>
<text class="t" transform="translate(1026.5,228.15) scale(1,1.05)">35</text>
<text class="t" transform="translate(1026.5,155.43) scale(1,1.05)">40</text>
<text class="t" transform="translate(1026.5,82.7) scale(1,1.05)">45</text>
<text class="t" transform="translate(1110.5,472) rotate(-90) scale(1,1.05)" text-anchor="middle">dBZ</text>
</svg></body></html>
